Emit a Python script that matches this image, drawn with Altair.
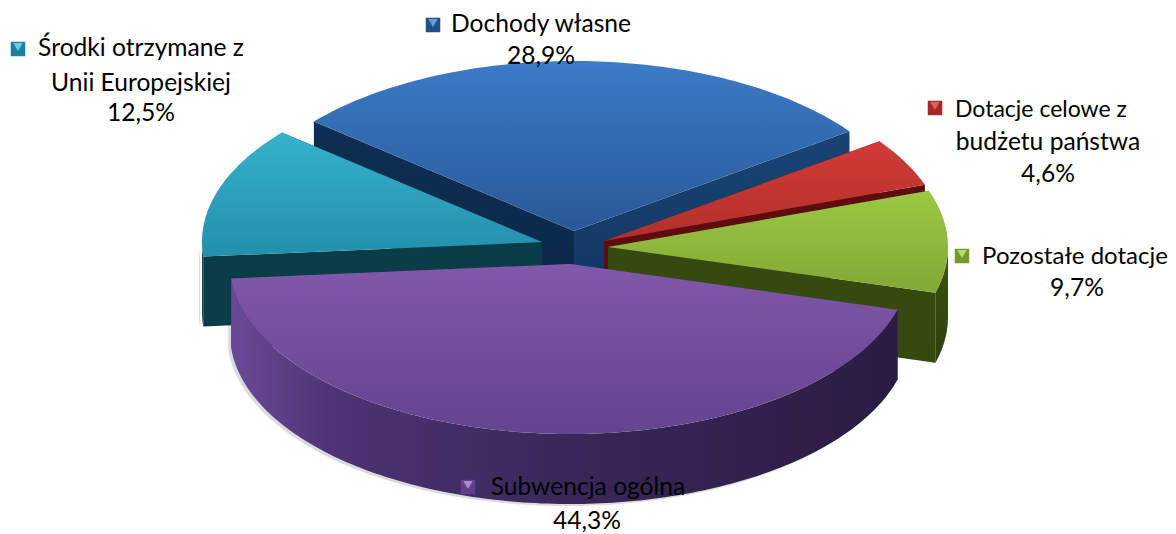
import math
import altair as alt
import pandas as pd

# ---- data ----
categories = ["Subwencja ogólna", "Środki otrzymane z Unii Europejskiej", "Dochody własne",
              "Dotacje celowe z budżetu państwa", "Pozostałe dotacje"]
shares = [44.3, 12.5, 28.9, 4.6, 9.7]
share_labels = ["44,3%", "12,5%", "28,9%", "4,6%", "9,7%"]

# ---- layout of the drawing (pixels of the page) ----
START = 15.6
RX, RY, DEPTH = 340, 170, 70
apex = {0: (570, 264), 1: (542, 242), 2: (574, 231), 3: (604, 241), 4: (608, 247)}
paint_order = [2, 3, 4, 1, 0]

def grad(c1, c2, x2=0, y2=1):
    return alt.Gradient(gradient="linear", x1=0, y1=0, x2=x2, y2=y2,
                        stops=[alt.GradientStop(offset=0, color=c1), alt.GradientStop(offset=1, color=c2)])

style = {
    0: dict(top=grad("#8258aa", "#64438f"), f0=grad("#4b3272", "#33224f"), f1=grad("#4b3272", "#33224f"),
            rim=alt.Gradient(gradient="linear", x1=0, y1=0, x2=1, y2=0, stops=[
                alt.GradientStop(offset=0, color="#6a4a98"), alt.GradientStop(offset=0.15, color="#4d3474"),
                alt.GradientStop(offset=0.5, color="#3a2759"), alt.GradientStop(offset=1, color="#2b1c43")])),
    1: dict(top=grad("#35b1ce", "#2390ac"), f0=grad("#0b3d49", "#0b3d49"), f1=grad("#0b3d49", "#0b3d49"),
            rim=grad("#0f4755", "#0b3d49")),
    2: dict(top=grad("#3b7bc8", "#2a5896"), f0=grad("#0e2e55", "#0c2848"), f1=grad("#184474", "#123662"),
            rim=grad("#0e2e55", "#0e2e55")),
    3: dict(top=grad("#d23b37", "#b22f2b"), f0=grad("#5e0d0e", "#5e0d0e"), f1=grad("#5e0d0e", "#5e0d0e"),
            rim=grad("#5e0d0e", "#5e0d0e")),
    4: dict(top=grad("#9cc843", "#82a836"), f0=grad("#36490f", "#36490f"), f1=grad("#36490f", "#36490f"),
            rim=grad("#3c5212", "#2f400c")),
}

def rim_point(i, t):
    ax, ay = apex[i]
    r = math.radians(t)
    return ax + RX * math.cos(r), ay + RY * math.sin(r)

def arc(i, a, b):
    n = max(2, int(abs(b - a)) + 1)
    return [rim_point(i, a + (b - a) * k / (n - 1)) for k in range(n)]

bounds = {}
acc = START
for i, s in enumerate(shares):
    bounds[i] = (acc, acc + 360 * s / 100)
    acc += 360 * s / 100

X = alt.Scale(domain=[8, 1168], range=[0, 1160])
Y = alt.Scale(domain=[8, 534], range=[0, 526])

def poly(points, fill, **kw):
    pts = list(points) + [points[0]]
    df = pd.DataFrame({"px": [p[0] for p in pts], "py": [p[1] for p in pts], "k": range(len(pts))})
    return alt.Chart(df).mark_line(fill=fill, strokeWidth=0, clip=False, **kw).encode(
        x=alt.X("px:Q", scale=X, axis=None), y=alt.Y("py:Q", scale=Y, axis=None), order="k:Q")

def shift(points, dx=0, dy=DEPTH):
    return [(p[0] + dx, p[1] + dy) for p in points]

def visible_rim(i):
    a, b = bounds[i]
    spans = []
    for lo, hi in [(0, 180), (360, 540)]:
        l, h = max(a, lo), min(b, hi)
        if l < h:
            spans.append((l, h))
    return spans

layers = []
# soft shadow under the walls
for i in paint_order:
    for l, h in visible_rim(i):
        r = arc(i, l, h)
        low = shift(r)
        layers.append(poly(shift(r + low[::-1], -3, 2), "#888888", opacity=0.3))

for i in paint_order:
    a, b = bounds[i]
    ap = apex[i]
    st = style[i]
    for t, key in ((a, "f0"), (b, "f1")):
        rp = rim_point(i, t)
        layers.append(poly([ap, rp, (rp[0], rp[1] + DEPTH), (ap[0], ap[1] + DEPTH)], st[key]))
    for l, h in visible_rim(i):
        r = arc(i, l, h)
        layers.append(poly(r + shift(r)[::-1], st["rim"]))
    layers.append(poly([ap] + arc(i, a, b), st["top"]))

# ---- labels ----
label_lines = [
    (["Subwencja ogólna", share_labels[0]], [(588, 488), (587, 522)]),
    (["Środki otrzymane z", "Unii Europejskiej", share_labels[1]], [(141, 49), (141, 84), (141, 114)]),
    (["Dochody własne", share_labels[2]], [(541, 25), (541, 57)]),
    (["Dotacje celowe z", "budżetu państwa", share_labels[3]], [(1041, 110), (1048, 143), (1048, 175)]),
    (["Pozostałe dotacje", share_labels[4]], [(1075, 257), (1077, 289)]),
]
font_sizes = {"Dotacje celowe z": 23, "Pozostałe dotacje": 24}
rows = []
for lines, pos in label_lines:
    for t, (x, y) in zip(lines, pos):
        rows.append({"t": t, "px": x, "py": y, "fs": font_sizes.get(t, 24.6)})
text = alt.Chart(pd.DataFrame(rows)).mark_text(font="Lato", color="#000000", align="center",
                                              baseline="middle").encode(
    x=alt.X("px:Q", scale=X, axis=None), y=alt.Y("py:Q", scale=Y, axis=None), text="t:N",
    size=alt.Size("fs:Q", scale=None))

markers = pd.DataFrame({
    "px": [468, 18, 433, 935, 962], "py": [487, 49, 25, 108, 256],
    "tr": [485, 47, 23, 106, 254],
    "dark": ["#5f4187", "#1f7f97", "#234f86", "#a52a27", "#76982f"],
    "light": ["#a98bd0", "#5fd0e6", "#6d9ad6", "#e0605a", "#bedc62"],
})
m_sq = alt.Chart(markers).mark_point(shape="square", filled=True, size=210, opacity=1).encode(
    x=alt.X("px:Q", scale=X, axis=None), y=alt.Y("py:Q", scale=Y, axis=None),
    color=alt.Color("dark:N", scale=None))
m_tr = alt.Chart(markers).mark_point(shape="triangle-down", filled=True, size=90, opacity=1).encode(
    x=alt.X("px:Q", scale=X, axis=None), y=alt.Y("tr:Q", scale=Y, axis=None),
    color=alt.Color("light:N", scale=None))

chart = alt.layer(*layers, text, m_sq, m_tr).properties(
    width=1160, height=526, padding=0, background="#ffffff",
    autosize=alt.AutoSizeParams(type="none")
).configure_view(stroke=None)
chart.save("out.html", embed_options={"renderer": "svg", "actions": False})
